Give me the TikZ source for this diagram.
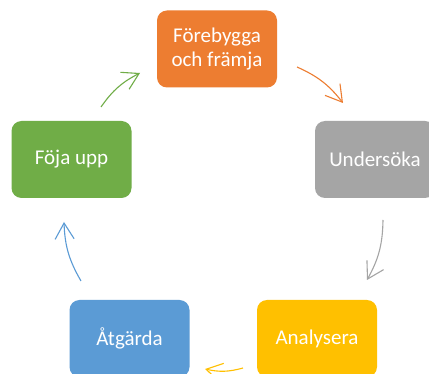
\documentclass[tikz,border=0pt]{standalone}
\usepackage{fontspec}
\setmainfont{Carlito}
\usetikzlibrary{arrows.meta}
\definecolor{cOrange}{HTML}{ED7D31}
\definecolor{cGrey}{HTML}{A5A5A5}
\definecolor{cYellow}{HTML}{FFC000}
\definecolor{cBlue}{HTML}{5B9BD5}
\definecolor{cGreen}{HTML}{70AD47}
\begin{document}
\begin{tikzpicture}[x=1pt,y=-1pt,
  box/.style={draw=none, rounded corners=10pt, minimum width=120pt, minimum height=77pt,
    text=white, font=\fontsize{21}{24}\selectfont, align=center, inner sep=0pt},
  cyc/.style={line width=1.1pt, -{Straight Barb[length=16pt,width=19pt]}, bend left=14}]
\useasboundingbox (0,0) rectangle (429,374);
\clip (0,0) rectangle (429,374);
\fill[white] (0,0) rectangle (429,374);
\node[box, fill=cOrange] (fore) at (217,49) {Förebygga\\och främja};
\node[box, fill=cGrey] (under) at (375,159.5) {Undersöka};
\node[box, fill=cYellow] (anal) at (317,338.5) {Analysera};
\node[box, fill=cBlue] (atg) at (129.5,338.5) {Åtgärda};
\node[box, fill=cGreen] (foja) at (71.5,159.5) {Föja upp};
\coordinate (o1) at (297,67);  \coordinate (o2) at (343,103);
\coordinate (g1) at (383,220); \coordinate (g2) at (367,280);
\coordinate (y1) at (243,368); \coordinate (y2) at (205,369);
\coordinate (b1) at (81,281);  \coordinate (b2) at (64,222);
\coordinate (n1) at (101,107); \coordinate (n2) at (140,73);
\draw[cyc, draw=cOrange] (o1) to (o2);
\draw[cyc, draw=cGrey] (g1) to (g2);
\draw[cyc, draw=cYellow] (y1) to (y2);
\draw[cyc, draw=cBlue] (b1) to (b2);
\draw[cyc, draw=cGreen] (n1) to (n2);
\end{tikzpicture}
\end{document}
